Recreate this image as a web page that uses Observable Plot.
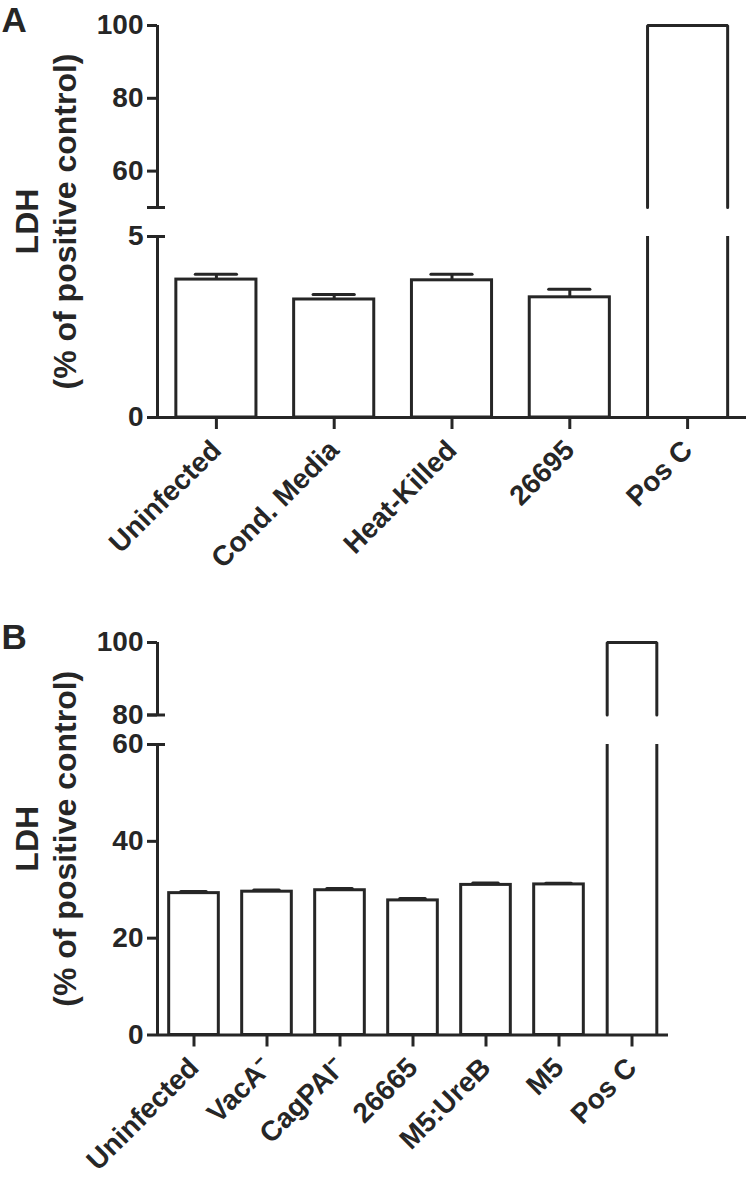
<!DOCTYPE html>
<html><head><meta charset="utf-8">
<script src="https://cdn.jsdelivr.net/npm/d3@7"></script>
<script src="https://cdn.jsdelivr.net/npm/@observablehq/plot@0.6"></script>
<style>
body{margin:0;background:#fff}
#chart svg{display:block}
</style>
</head><body><div id="chart"></div>
<script>
// ---- Panel A data ----
const catsA = ["Uninfected", "Cond. Media", "Heat-Killed", "26695", "Pos C"];
const meanA = [3.81, 3.26, 3.79, 3.32, 100];
const semA  = [0.15, 0.14, 0.17, 0.22, 0];
const breakA = [5, 50];
const yTicksA = [0, 5, 50, 60, 80, 100];
const yLabelledA = [0, 5, 60, 80, 100];

// ---- Panel B data ----
const catsB = ["Uninfected", "VacA\u207B", "CagPAI\u207B", "26665", "M5:UreB", "M5", "Pos C"];
const meanB = [29.3, 29.6, 29.9, 27.8, 31.0, 31.1, 100];
const semB  = [0.35, 0.35, 0.35, 0.4, 0.4, 0.25, 0];
const breakB = [60, 80];
const yTicksB = [0, 20, 40, 60, 80, 100];
const yLabelledB = [0, 20, 40, 60, 80, 100];

const yTitle = "LDH\n(% of positive control)";

const INK = "#262626";
const FONT = "'Liberation Sans', Arial, Helvetica, sans-serif";
const SW = 3;

function panel({letter, cats, mean, sem, brk, ticks, labelled, height, marginTop, marginRight, yRange}) {
  const n = cats.length;
  const rows = cats.map((c, i) => ({i, c, mean: mean[i], sem: sem[i]}));
  const xDomain = [-0.5, n - 0.5];
  const BW = 0.68 / 2, CAP = 0.35 / 2;
  const yMax = d3.max(ticks);
  const whole = rows.filter(d => d.mean <= brk[0]);
  const broken = rows.filter(d => d.mean > brk[0]);
  const brokenSides = broken.flatMap(d => [-1, 1].map(s => ({x: d.i + s * BW, y1: 0, y2: brk[0]})));
  const brokenTop = broken.flatMap(d =>
    [[-1, brk[1]], [-1, d.mean], [1, d.mean], [1, brk[1]]].map(([s, y]) => ({i: d.i, x: d.i + s * BW, y})));
  const errs = rows.filter(d => d.sem > 0);
  const axisSegs = [{y1: 0, y2: brk[0]}, {y1: brk[1], y2: yMax}];

  return Plot.plot({
    width: 750,
    height,
    marginTop,
    marginBottom: height - yRange[0],
    marginLeft: 157,
    marginRight,
    style: {fontFamily: FONT, color: INK, background: "#fff"},
    x: {type: "linear", domain: xDomain},
    y: {type: "linear", domain: [0, brk[0], brk[1], yMax], range: yRange},
    marks: [
      // bars below the break
      Plot.rectY(whole, {x1: d => d.i - BW, x2: d => d.i + BW, y1: 0, y2: "mean", fill: "white", stroke: INK, strokeWidth: SW}),
      // broken bars: lower sides and upper outline
      Plot.ruleX(brokenSides, {x: "x", y1: "y1", y2: "y2", stroke: INK, strokeWidth: SW}),
      Plot.line(brokenTop, {x: "x", y: "y", z: "i", stroke: INK, strokeWidth: SW, strokeLinejoin: "miter", curve: "linear"}),
      // error bars (upper only)
      Plot.ruleX(errs, {x: "i", y1: "mean", y2: d => d.mean + d.sem, stroke: INK, strokeWidth: SW}),
      Plot.ruleY(errs, {x1: d => d.i - CAP, x2: d => d.i + CAP, y: d => d.mean + d.sem, stroke: INK, strokeWidth: SW, strokeLinecap: "round"}),
      // y axis line (two segments) and break caps
      Plot.ruleX(axisSegs, {x: () => xDomain[0], y1: "y1", y2: "y2", stroke: INK, strokeWidth: SW}),
      Plot.ruleY(brk, {x1: () => xDomain[0], x2: () => xDomain[0], insetLeft: -10, insetRight: -8, stroke: INK, strokeWidth: SW}),
      // x baseline
      Plot.ruleY([0], {stroke: INK, strokeWidth: SW}),
      Plot.axisY({ticks, tickFormat: d => labelled.includes(d) ? String(d) : "", tickSize: 10, tickPadding: 4,
        fontSize: 28, fontWeight: "bold", stroke: INK, strokeWidth: SW, label: null}),
      Plot.axisX({ticks: d3.range(n), tickFormat: i => cats[i], tickSize: 12, tickPadding: 16, tickRotate: -45,
        fontSize: 28, fontWeight: "bold", stroke: INK, strokeWidth: SW, label: null}),
      // y title
      Plot.text([yTitle], {frameAnchor: "left", rotate: -90, dx: -113, lineHeight: 1.2, fontSize: 32,
        fontWeight: "bold", fill: INK, textAnchor: "middle", lineAnchor: "middle"}),
      // panel letter
      Plot.text([letter], {frameAnchor: "top-left", dx: -156, dy: -18, fontSize: 35, fontWeight: "bold",
        fill: INK, textAnchor: "start", lineAnchor: "top"})
    ]
  });
}

const chart = document.getElementById("chart");
chart.append(panel({letter: "A", cats: catsA, mean: meanA, sem: semA, brk: breakA, ticks: yTicksA, labelled: yLabelledA,
  height: 600, marginTop: 25, marginRight: 4, yRange: [417, 236, 207, 25]}));
chart.append(panel({letter: "B", cats: catsB, mean: meanB, sem: semB, brk: breakB, ticks: yTicksB, labelled: yLabelledB,
  height: 582, marginTop: 42, marginRight: 82, yRange: [434.5, 144, 114.5, 42]}));
</script>
</body></html>
